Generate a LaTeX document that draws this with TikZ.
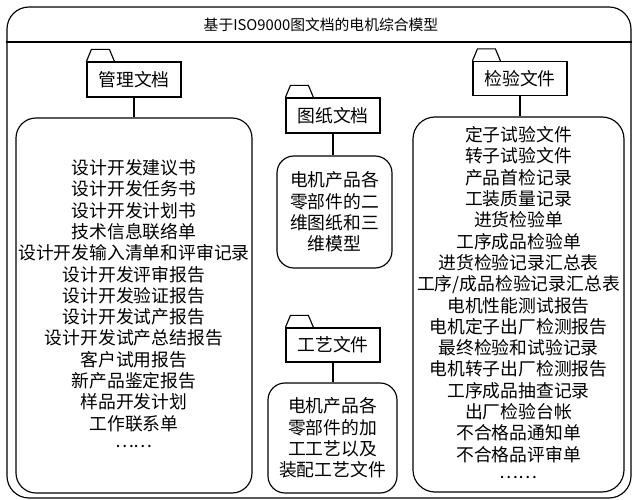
\documentclass[tikz,border=0pt]{standalone}
\usepackage{fontspec}
\newfontfamily\cjk{Noto Sans CJK SC}
\newcommand{\mydots}{\raisebox{0.2em}[0pt][0pt]{……}}
\begin{document}
\begin{tikzpicture}[x=1pt,y=-1pt,line width=1.15pt,
  txt/.style={font=\cjk\fontsize{17.8}{21.3}\selectfont},
  hdr/.style={txt,draw,minimum width=94pt,minimum height=34pt,inner sep=1pt},
  lst/.style={txt,draw,align=center,inner sep=2pt},
  tabshape/.style={line join=miter},
  conn/.style={line width=1.15pt}]
\useasboundingbox (0,0) rectangle (633,500);
% outer frame and title
\node[draw,rounded corners=22pt,minimum width=624pt,minimum height=491pt,inner sep=0pt] (frame) at (319,252.5) {};
\node[font=\cjk\fontsize{14.8}{17}\selectfont,inner sep=0pt] (title) at (321,25) {基于ISO9000图文档的电机综合模型};
\draw (frame.west |- 0,42) -- (frame.east |- 0,42);
% headers
\node[hdr,minimum height=35pt] (gl) at (134,79.5) {管理文档};
\node[hdr] (jy) at (520,78.5) {检验文件};
\node[hdr,minimum height=35pt] (tz) at (333,115.5) {图纸文档};
\node[hdr] (gy) at (333,345) {工艺文件};
% folder tabs
\foreach \n in {gl,jy,tz,gy}{
  \draw[tabshape] (\n.north west) -- ++(5,-12) -- ++(18,0) -- ++(5,12);
}
% content boxes
\node[lst,rounded corners=20pt,minimum width=236pt,minimum height=375pt] (glbox) at (134,305.5)
 {设计开发建议书\\设计开发任务书\\设计开发计划书\\技术信息联络单\\设计开发输入清单和评审记录\\设计开发评审报告\\设计开发验证报告\\设计开发试产报告\\设计开发试产总结报告\\客户试用报告\\新产品鉴定报告\\样品开发计划\\工作联系单\\\mydots};
\node[lst,rounded corners=22pt,minimum width=211pt,minimum height=375pt] (jybox) at (518.5,304.5)
 {定子试验文件\\转子试验文件\\产品首检记录\\工装质量记录\\进货检验单\\工序成品检验单\\进货检验记录汇总表\\工序/成品检验记录汇总表\\电机性能测试报告\\电机定子出厂检测报告\\最终检验和试验记录\\电机转子出厂检测报告\\工序成品抽查记录\\出厂检验台帐\\不合格品通知单\\不合格品评审单\\\mydots};
\node[lst,rounded corners=17pt,minimum width=115pt,minimum height=112pt] (tzbox) at (334.5,212)
 {电机产品各\\零部件的二\\维图纸和三\\维模型};
\node[lst,rounded corners=17pt,minimum width=129pt,minimum height=110pt] (gybox) at (332.5,438)
 {电机产品各\\零部件的加\\工工艺以及\\装配工艺文件};
% connectors
\draw[conn] (gl.south) -- (gl.south |- glbox.north);
\draw[conn] (jy.south) -- (jy.south |- jybox.north);
\draw[conn] (tz.south) -- (tz.south |- tzbox.north);
\draw[conn] (gy.south) -- (gy.south |- gybox.north);
\end{tikzpicture}
\end{document}
